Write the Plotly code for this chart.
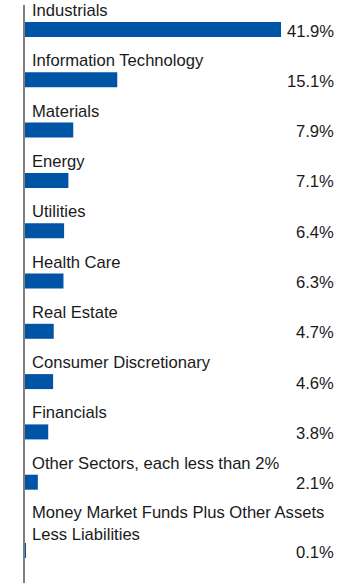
import plotly.graph_objects as go

categories = [
    "Industrials",
    "Information Technology",
    "Materials",
    "Energy",
    "Utilities",
    "Health Care",
    "Real Estate",
    "Consumer Discretionary",
    "Financials",
    "Other Sectors, each less than 2%",
    "Money Market Funds Plus Other Assets<br>Less Liabilities",
]
values = [41.9, 15.1, 7.9, 7.1, 6.4, 6.3, 4.7, 4.6, 3.8, 2.1, 0.1]
value_labels = [f"{v:.1f}%" for v in values]

BAR_COLOR = "#0054A5"
TEXT_COLOR = "#1a1a1a"
FONT = "Liberation Sans, Arial, sans-serif"
FSIZE = 16.6

W, H = 360, 587
LEFT = 25
PX_PER_UNIT = 6.11
PITCH = 50.3
FIRST = 29.5
EXTRA_LINE = 18

# row centres in pixel-like y units (extra space for wrapped labels)
ypos = []
offset = 0.0
for i, c in enumerate(categories):
    nlines = c.count("<br>") + 1
    offset += EXTRA_LINE * (nlines - 1)
    ypos.append(FIRST + PITCH * i + offset)

fig = go.Figure()
fig.add_trace(go.Bar(
    x=values, y=ypos, orientation="h", width=15,
    marker=dict(color=BAR_COLOR, line=dict(width=0)),
    hoverinfo="skip",
))

annotations = []
for c, y, lab in zip(categories, ypos, value_labels):
    nlines = c.count("<br>") + 1
    annotations.append(dict(
        x=0, y=y - 19 - 8 * (nlines - 1), xref="x", yref="y",
        text=c, showarrow=False, xanchor="left", yanchor="middle", xshift=5,
        align="left", font=dict(family=FONT, size=FSIZE, color=TEXT_COLOR),
    ))
    annotations.append(dict(
        x=1, y=y + 1.5, xref="paper", yref="y",
        text=lab, showarrow=False, xanchor="right", yanchor="middle", xshift=-24,
        font=dict(family=FONT, size=FSIZE, color=TEXT_COLOR),
    ))

plot_w = W - LEFT
fig.update_layout(
    width=W, height=H,
    margin=dict(l=LEFT, r=0, t=0, b=0),
    paper_bgcolor="white", plot_bgcolor="white",
    showlegend=False,
    xaxis=dict(range=[0, plot_w / PX_PER_UNIT], visible=False, fixedrange=True),
    yaxis=dict(range=[H, 0], visible=False, fixedrange=True),
    annotations=annotations,
    shapes=[dict(
        type="line", xref="paper", yref="y",
        x0=-1 / plot_w, x1=-1 / plot_w, y0=5, y1=583,
        line=dict(color="#555555", width=1.5),
    )],
)

fig.write_html("out.html", config={"displayModeBar": False})
